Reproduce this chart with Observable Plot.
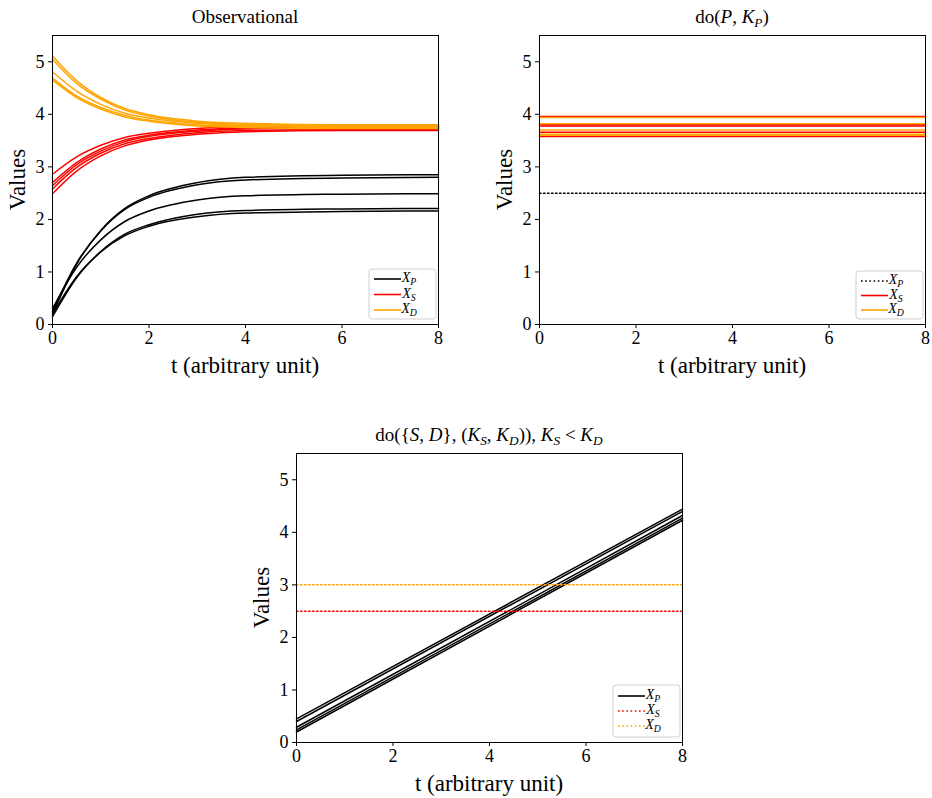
<!DOCTYPE html>
<html><head><meta charset="utf-8">
<script src="https://cdn.jsdelivr.net/npm/d3@7"></script>
<script src="https://cdn.jsdelivr.net/npm/@observablehq/plot@0.6"></script>
<style>
body{margin:0;background:#fff;}
#wrap{position:relative;width:932px;height:798px;background:#fff;overflow:hidden;}
#wrap svg text{font-family:'Liberation Serif','DejaVu Serif',serif !important;}
</style></head><body><div id="wrap"></div>
<script>
// ---------- data ----------
const tObs = [0, 0.5, 1, 1.5, 2, 3, 4, 6, 8];
// Observational: X_P runs
const obsP = [
  [0.20, 1.15, 1.79, 2.21, 2.45, 2.70, 2.80, 2.84, 2.85],
  [0.25, 1.17, 1.78, 2.19, 2.42, 2.66, 2.75, 2.79, 2.80],
  [0.30, 1.09, 1.61, 1.96, 2.16, 2.37, 2.45, 2.48, 2.49],
  [0.15, 0.89, 1.39, 1.72, 1.90, 2.10, 2.17, 2.20, 2.21],
  [0.20, 0.91, 1.38, 1.69, 1.87, 2.05, 2.12, 2.15, 2.16]
];
// Observational: X_S runs
const obsS = [
  [2.86, 3.19, 3.41, 3.56, 3.64, 3.73, 3.76, 3.78, 3.78],
  [2.70, 3.08, 3.34, 3.51, 3.60, 3.70, 3.74, 3.76, 3.76],
  [2.64, 3.04, 3.30, 3.48, 3.58, 3.68, 3.72, 3.74, 3.74],
  [2.58, 2.99, 3.26, 3.44, 3.54, 3.65, 3.69, 3.71, 3.71],
  [2.49, 2.92, 3.21, 3.40, 3.51, 3.62, 3.67, 3.69, 3.69]
];
// Observational: X_D runs
const obsD = [
  [5.11, 4.64, 4.32, 4.11, 3.99, 3.87, 3.83, 3.80, 3.80],
  [5.05, 4.59, 4.29, 4.08, 3.97, 3.85, 3.81, 3.78, 3.78],
  [4.81, 4.44, 4.19, 4.02, 3.93, 3.83, 3.79, 3.77, 3.77],
  [4.69, 4.35, 4.13, 3.98, 3.89, 3.80, 3.77, 3.75, 3.75],
  [4.65, 4.32, 4.10, 3.95, 3.87, 3.78, 3.75, 3.73, 3.73]
];
// do(P, K_P): constant runs
const tSpan = [0, 8];
const doP_KP = 2.5;
const doP_S = [3.96, 3.80, 3.78, 3.66, 3.58];
const doP_D = [3.94, 3.82, 3.70, 3.62, 3.60];
// do({S,D},(K_S,K_D)): X_P linear runs (value at t=0 and t=8)
const doSD_P0 = [0.45, 0.40, 0.29, 0.24, 0.20];
const doSD_P8 = [4.44, 4.40, 4.32, 4.27, 4.23];
const doSD_KS = 2.5;
const doSD_KD = 3.0;
const xTicks = [0, 2, 4, 6, 8];
const yTicks = [0, 1, 2, 3, 4, 5];

// ---------- helpers ----------
const FONT = "'Liberation Serif','DejaVu Serif',serif";
const wrap = document.getElementById("wrap");
const W = 386, H = 289, mL = 60, mR = 20, mT = 45, mB = 80;

function rowsFromRuns(ts, runs) {
  const out = [];
  runs.forEach((r, i) => r.forEach((v, j) => out.push({t: ts[j], v, run: i})));
  return out;
}
function constRows(vals) {
  const out = [];
  vals.forEach((v, i) => tSpan.forEach(t => out.push({t, v, run: i})));
  return out;
}
function mathText(sel, parts) {
  let shifted = 0;
  parts.forEach(p => {
    const ts = sel.append("tspan").text(p.t);
    if (p.it) ts.attr("font-style", "italic");
    if (p.sub) {
      ts.attr("font-size", p.subSize || "0.7em");
      if (!shifted) { ts.attr("dy", p.dy || 4); shifted = p.dy || 4; }
    } else if (shifted) { ts.attr("dy", -shifted); shifted = 0; }
  });
}
const XP = [{t:"X", it:true}, {t:"P", it:true, sub:true, dy:3}];
const XS = [{t:"X", it:true}, {t:"S", it:true, sub:true, dy:3}];
const XD = [{t:"X", it:true}, {t:"D", it:true, sub:true, dy:3}];

function panel({left, top, marks, title, legend}) {
  const svg = Plot.plot({
    width: W + mL + mR, height: H + mT + mB,
    marginLeft: mL, marginRight: mR, marginTop: mT, marginBottom: mB,
    x: {domain: [0, 8]}, y: {domain: [0, 5.5]},
    style: {fontFamily: FONT, fontSize: "17px", color: "black", background: "transparent", overflow: "visible"},
    marks: [
      ...marks,
      Plot.frame({stroke: "black", strokeWidth: 1}),
      Plot.axisX({ticks: xTicks, tickSize: 4, tickPadding: 3, fontSize: 18, tickFormat: "d", label: null}),
      Plot.axisY({ticks: yTicks, tickSize: 4, tickPadding: 4, fontSize: 18, tickFormat: "d", label: null})
    ]
  });
  svg.style.position = "absolute";
  svg.style.left = (left - mL) + "px";
  svg.style.top = (top - mT) + "px";
  const s = d3.select(svg);
  // axis labels
  s.append("text").attr("x", mL + W / 2).attr("y", mT + H + 49)
    .attr("text-anchor", "middle").attr("font-size", 23).attr("font-family", FONT)
    .text("t (arbitrary unit)");
  s.append("text").attr("transform", `translate(${mL - 27},${mT + H / 2}) rotate(-90)`)
    .attr("text-anchor", "middle").attr("font-size", 23).attr("font-family", FONT)
    .text("Values");
  // title
  const tt = s.append("text").attr("x", mL + W / 2).attr("y", mT - 12)
    .attr("text-anchor", "middle").attr("font-size", 19).attr("font-family", FONT);
  mathText(tt, title);
  // legend
  const bw = 67, bh = legend.h, bx = mL + W - 2 - bw, by = mT + H - 5 - bh;
  const g = s.append("g").attr("transform", `translate(${bx},${by})`);
  g.append("rect").attr("width", bw).attr("height", bh).attr("rx", 3)
    .attr("fill", "white").attr("fill-opacity", 0.85).attr("stroke", "#d0d0d0");
  legend.items.forEach((it, i) => {
    const y = legend.y0 + i * legend.dy;
    g.append("line").attr("x1", 5).attr("x2", 32).attr("y1", y).attr("y2", y)
      .attr("stroke", it.color).attr("stroke-width", 1.6)
      .attr("stroke-dasharray", it.dash ? "1.6,2.6" : null);
    const lt = g.append("text").attr("x", 40).attr("y", y + 3)
      .attr("font-size", 14).attr("font-family", FONT);
    mathText(lt, it.label);
  });
  wrap.appendChild(svg);
}

// ---------- panels ----------
const lw = 1.5;
panel({
  left: 52, top: 35,
  title: [{t: "Observational"}],
  marks: [
    Plot.line(rowsFromRuns(tObs, obsP), {x: "t", y: "v", z: "run", stroke: "black", strokeWidth: lw, curve: "monotone-x"}),
    Plot.line(rowsFromRuns(tObs, obsS), {x: "t", y: "v", z: "run", stroke: "red", strokeWidth: lw, curve: "monotone-x"}),
    Plot.line(rowsFromRuns(tObs, obsD), {x: "t", y: "v", z: "run", stroke: "orange", strokeWidth: lw, curve: "monotone-x"})
  ],
  legend: {h: 50, y0: 10, dy: 15.5, items: [
    {color: "black", label: XP}, {color: "red", label: XS}, {color: "orange", label: XD}]}
});

panel({
  left: 539, top: 35,
  title: [{t: "do("}, {t: "P", it: true}, {t: ", "}, {t: "K", it: true}, {t: "P", it: true, sub: true}, {t: ")"}],
  marks: [
    Plot.line(constRows([doP_KP]), {x: "t", y: "v", z: "run", stroke: "black", strokeWidth: lw, strokeDasharray: "1.5,2.5"}),
    Plot.line(constRows(doP_S), {x: "t", y: "v", z: "run", stroke: "red", strokeWidth: lw}),
    Plot.line(constRows(doP_D), {x: "t", y: "v", z: "run", stroke: "orange", strokeWidth: lw})
  ],
  legend: {h: 48, y0: 10, dy: 14.5, items: [
    {color: "black", label: XP, dash: true}, {color: "red", label: XS}, {color: "orange", label: XD}]}
});

const sdRows = [];
doSD_P0.forEach((v, i) => { sdRows.push({t: 0, v, run: i}); sdRows.push({t: 8, v: doSD_P8[i], run: i}); });
panel({
  left: 296, top: 453,
  title: [{t: "do({"}, {t: "S", it: true}, {t: ", "}, {t: "D", it: true}, {t: "}, ("},
          {t: "K", it: true}, {t: "S", it: true, sub: true}, {t: ", "},
          {t: "K", it: true}, {t: "D", it: true, sub: true}, {t: ")), "},
          {t: "K", it: true}, {t: "S", it: true, sub: true}, {t: " < "},
          {t: "K", it: true}, {t: "D", it: true, sub: true}],
  marks: [
    Plot.line(sdRows, {x: "t", y: "v", z: "run", stroke: "black", strokeWidth: lw}),
    Plot.line(constRows([doSD_KS]), {x: "t", y: "v", z: "run", stroke: "red", strokeWidth: lw, strokeDasharray: "1.5,2.5"}),
    Plot.line(constRows([doSD_KD]), {x: "t", y: "v", z: "run", stroke: "orange", strokeWidth: lw, strokeDasharray: "1.5,2.5"})
  ],
  legend: {h: 52, y0: 11, dy: 15, items: [
    {color: "black", label: XP}, {color: "red", label: XS, dash: true}, {color: "orange", label: XD, dash: true}]}
});
</script></body></html>
